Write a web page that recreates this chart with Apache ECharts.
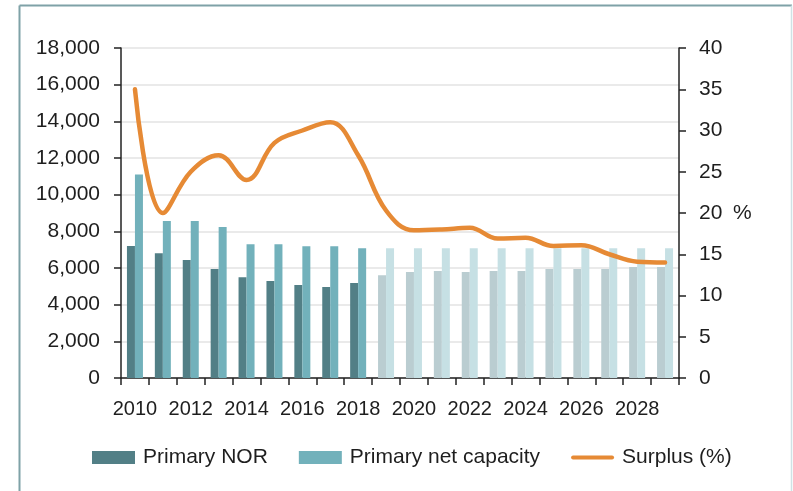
<!DOCTYPE html>
<html>
<head>
<meta charset="utf-8">
<title>Primary NOR vs capacity</title>
<script src="https://cdn.jsdelivr.net/npm/echarts@6/dist/echarts.min.js"></script>
<style>
  html, body { margin: 0; padding: 0; background: #fff; }
  #chart { width: 793px; height: 491px; }
</style>
</head>
<body>
<div id="chart"></div>
<script>
// data
var years = ['2010', '2011', '2012', '2013', '2014', '2015', '2016', '2017', '2018', '2019',
             '2020', '2021', '2022', '2023', '2024', '2025', '2026', '2027', '2028', '2029'];
var primaryNor = [7200, 6800, 6430, 5940, 5500, 5290, 5070, 4960, 5180, 5610,
                  5780, 5830, 5780, 5830, 5830, 5940, 5940, 5940, 6050, 6050];
var primaryCapacity = [11100, 8560, 8560, 8230, 7300, 7300, 7190, 7190, 7080, 7080,
                       7080, 7080, 7080, 7080, 7080, 7080, 7080, 7080, 7080, 7080];
var surplus = [35, 20, 25, 27, 24, 28.5, 30, 31, 27, 20.3,
               17.9, 18, 18.2, 16.9, 17, 16, 16.1, 15, 14.1, 14];
var leftTicks = { min: 0, max: 18000, step: 2000 };
var rightTicks = { min: 0, max: 40, step: 5 };
var firstForecastYear = '2019';

var FONT = '"Liberation Sans", Arial, sans-serif';
var TEXT = '#1e1e1e';
var ORANGE = '#e68a35';

// forecast years are drawn faded
function withFade(values, solid, faded) {
  var cut = years.indexOf(firstForecastYear);
  return values.map(function (v, i) {
    return { value: v, itemStyle: { color: i >= cut ? faded : solid } };
  });
}

var chart = echarts.init(document.getElementById('chart'), null, { renderer: 'canvas' });

var option = {
  backgroundColor: '#fff',
  animation: false,
  textStyle: { fontFamily: FONT, color: TEXT },
  graphic: [
    // the thin frame round the figure
    { type: 'line', shape: { x1: 19.5, y1: 5.5, x2: 792, y2: 5.5 }, style: { stroke: '#7fa2a7', lineWidth: 2 } },
    { type: 'line', shape: { x1: 19.5, y1: 5.5, x2: 19.5, y2: 491 }, style: { stroke: '#7fa2a7', lineWidth: 2 } },
    { type: 'line', shape: { x1: 791.5, y1: 5.5, x2: 791.5, y2: 491 }, style: { stroke: '#cfe2e5', lineWidth: 1.5 } }
  ],
  grid: { left: 121, right: 114, top: 48, bottom: 113, containLabel: false },
  legend: {
    left: 92,
    top: 447,
    padding: 0,
    itemWidth: 43,
    itemHeight: 13,
    itemGap: 31,
    symbolKeepAspect: true,
    textStyle: { fontFamily: FONT, fontSize: 21, color: TEXT, padding: [0, 0, 0, 3] },
    data: [
      { name: 'Primary NOR', icon: 'rect' },
      { name: 'Primary net capacity', icon: 'rect' },
      { name: 'Surplus (%)', icon: 'path://M2,0 L41,0 A2,2 0 0 1 41,4 L2,4 A2,2 0 0 1 2,0 Z',
        itemStyle: { color: ORANGE } }
    ]
  },
  xAxis: {
    type: 'category',
    data: years,
    boundaryGap: true,
    axisLine: { lineStyle: { color: '#222', width: 1.5 } },
    axisTick: { show: true, interval: 0, length: 7, lineStyle: { color: '#222', width: 1.5 } },
    axisLabel: {
      interval: 1,
      margin: 21,
      fontFamily: FONT,
      fontSize: 20,
      color: TEXT
    },
    splitLine: { show: false }
  },
  yAxis: [
    {
      type: 'value',
      min: leftTicks.min,
      max: leftTicks.max,
      interval: leftTicks.step,
      axisLine: { show: true, lineStyle: { color: '#222', width: 1.5 } },
      axisTick: { show: true, length: 7, lineStyle: { color: '#222', width: 1.5 } },
      axisLabel: {
        margin: 21,
        fontFamily: FONT,
        fontSize: 21,
        color: TEXT,
        formatter: function (v) { return v.toLocaleString('en-US'); }
      },
      splitLine: { show: true, lineStyle: { color: '#e3e3e3', width: 1.5 } }
    },
    {
      type: 'value',
      position: 'right',
      min: rightTicks.min,
      max: rightTicks.max,
      interval: rightTicks.step,
      name: '%',
      nameLocation: 'middle',
      nameRotate: 0,
      nameGap: 54,
      nameTextStyle: { fontFamily: FONT, fontSize: 21, color: TEXT, align: 'left' },
      axisLine: { show: true, lineStyle: { color: '#222', width: 1.5 } },
      axisTick: { show: true, length: 7, lineStyle: { color: '#222', width: 1.5 } },
      axisLabel: { margin: 20, fontFamily: FONT, fontSize: 21, color: TEXT },
      splitLine: { show: false }
    }
  ],
  series: [
    {
      name: 'Primary NOR',
      type: 'bar',
      yAxisIndex: 0,
      barWidth: 8,
      barGap: '0%',
      itemStyle: { color: '#527f86' },
      data: withFade(primaryNor, '#527f86', '#bacdd1')
    },
    {
      name: 'Primary net capacity',
      type: 'bar',
      yAxisIndex: 0,
      barWidth: 8,
      barGap: '0%',
      itemStyle: { color: '#72b1bb' },
      data: withFade(primaryCapacity, '#72b1bb', '#c6e0e4')
    },
    {
      name: 'Surplus (%)',
      type: 'line',
      yAxisIndex: 1,
      smooth: 0.4,
      symbol: 'none',
      lineStyle: { color: ORANGE, width: 4.5, cap: 'round' },
      itemStyle: { color: ORANGE },
      z: 5,
      data: surplus
    }
  ]
};

chart.setOption(option);
window.addEventListener('resize', function () { chart.resize(); });
</script>
</body>
</html>
